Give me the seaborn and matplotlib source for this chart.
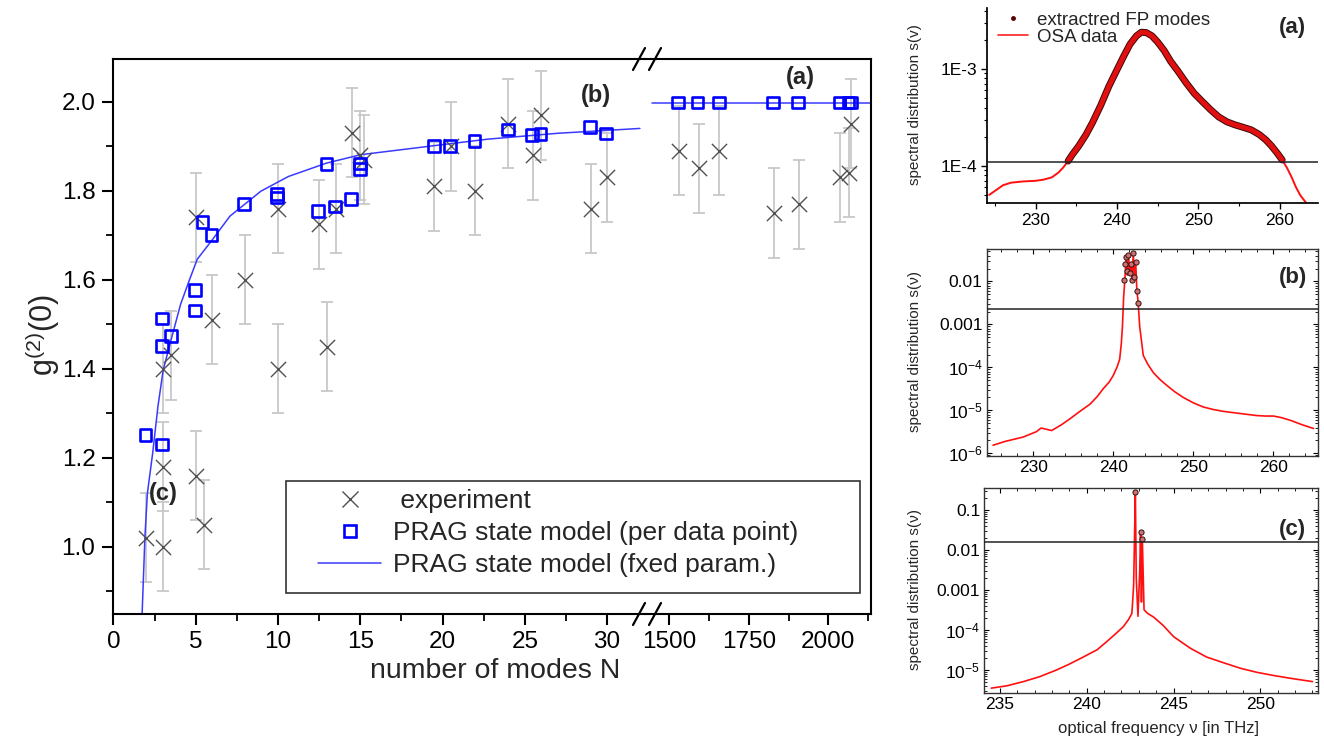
import numpy as np
import pandas as pd
import matplotlib
matplotlib.use('Agg')
import matplotlib.pyplot as plt
import seaborn as sns
from matplotlib.lines import Line2D
from matplotlib.patches import Rectangle
from matplotlib.ticker import FixedLocator, NullFormatter, LogLocator, FormatStrFormatter

# ---- main panel: g2(0) vs number of modes ----
exp_n_low = [2.0, 3.0, 3.0, 3.0, 3.5, 5.0, 5.0, 5.5, 6.0, 8.0, 10.0, 10.0, 12.5,
             13.0, 13.5, 14.5, 15.0, 15.2, 19.5, 20.5, 22.0, 24.0, 25.5, 26.0, 29.0, 30.0]
exp_g_low = [1.02, 1.00, 1.18, 1.40, 1.43, 1.16, 1.74, 1.05, 1.51, 1.60, 1.40, 1.76, 1.725,
             1.45, 1.76, 1.93, 1.88, 1.87, 1.81, 1.90, 1.80, 1.95, 1.88, 1.97, 1.76, 1.83]
exp_err_low = [0.1, 0.1, 0.1, 0.1, 0.1, 0.1, 0.1, 0.1, 0.1, 0.1, 0.1, 0.1, 0.1,
               0.1, 0.1, 0.1, 0.1, 0.1, 0.1, 0.1, 0.1, 0.1, 0.1, 0.1, 0.1, 0.1]

exp_n_high = [1529, 1592, 1657, 1829, 1909, 2038, 2065, 2071]
exp_g_high = [1.89, 1.85, 1.89, 1.75, 1.77, 1.83, 1.84, 1.95]
exp_err_high = [0.1, 0.1, 0.1, 0.1, 0.1, 0.1, 0.1, 0.1]

mod_n_low = [1.95, 2.95, 2.95, 2.95, 3.5, 4.95, 4.95, 5.4, 5.95, 7.95, 9.95, 9.95, 12.45,
             12.95, 13.45, 14.45, 15.0, 15.0, 19.5, 20.45, 21.95, 24.0, 25.45, 25.95, 28.95, 29.95]
mod_g_low = [1.251, 1.23, 1.451, 1.513, 1.473, 1.531, 1.577, 1.730, 1.701, 1.770, 1.785, 1.792, 1.755,
             1.860, 1.765, 1.782, 1.849, 1.861, 1.900, 1.900, 1.912, 1.938, 1.925, 1.927, 1.943, 1.929]
mod_n_high = [1528, 1589, 1656, 1826, 1905, 2035, 2063, 2071]
mod_g_high = [1.998, 1.998, 1.998, 1.998, 1.998, 1.998, 1.998, 1.998]

fit_n_low = [1.74, 1.91, 2.06, 2.38, 2.70, 3.02, 3.55, 4.08, 4.62, 5.09, 6.03, 7.08,
             8.96, 10.63, 12.94, 15.03, 19.43, 22.78, 26.96, 32.0]
fit_g_low = [0.85, 1.022, 1.12, 1.21, 1.315, 1.397, 1.472, 1.545, 1.60, 1.646, 1.691, 1.743,
             1.799, 1.832, 1.862, 1.881, 1.901, 1.916, 1.929, 1.940]
fit_n_high = [1447, 2135]
fit_g_high = [1.997, 1.997]

# ---- spectrum (a) ----
osa_a_nu = [224.3, 225.0, 226.0, 227.0, 228.5, 230.0, 231.0, 232.0, 232.8, 233.4, 234.0, 234.5,
            235.3, 236.2, 237.0, 238.0, 239.0, 240.0, 240.8, 241.6, 242.4, 243.0, 243.6, 244.3,
            245.0, 245.8, 246.6, 247.5, 248.5, 249.5, 250.5, 251.5, 252.5, 253.5, 254.5, 255.5,
            256.5, 257.5, 258.3, 259.0, 259.7, 260.3, 260.9, 261.5, 262.0, 262.5, 263.0, 263.4]
osa_a_s = [5.0e-5, 5.5e-5, 6.3e-5, 6.7e-5, 6.9e-5, 7.0e-5, 7.2e-5, 7.6e-5, 8.5e-5, 9.6e-5, 1.12e-4, 1.3e-4,
           1.6e-4, 2.1e-4, 2.8e-4, 4.2e-4, 6.6e-4, 9.8e-4, 1.34e-3, 1.8e-3, 2.2e-3, 2.4e-3, 2.38e-3, 2.2e-3,
           1.9e-3, 1.55e-3, 1.2e-3, 9.5e-4, 7.2e-4, 5.6e-4, 4.6e-4, 3.8e-4, 3.2e-4, 2.85e-4, 2.65e-4, 2.5e-4,
           2.35e-4, 2.1e-4, 1.85e-4, 1.6e-4, 1.35e-4, 1.15e-4, 9.5e-5, 7.5e-5, 6.0e-5, 5.0e-5, 4.4e-5, 4.0e-5]
fp_a_nu = [234.0, 234.5, 235.3, 236.2, 237.0, 238.0, 239.0, 240.0, 240.8, 241.6, 242.4, 243.0,
           243.6, 244.3, 245.0, 245.8, 246.6, 247.5, 248.5, 249.5, 250.5, 251.5, 252.5, 253.5,
           254.5, 255.5, 256.5, 257.5, 258.3, 259.0, 259.7, 260.3]
fp_a_s = [1.12e-4, 1.3e-4, 1.6e-4, 2.1e-4, 2.8e-4, 4.2e-4, 6.6e-4, 9.8e-4, 1.34e-3, 1.8e-3, 2.2e-3, 2.4e-3,
          2.38e-3, 2.2e-3, 1.9e-3, 1.55e-3, 1.2e-3, 9.5e-4, 7.2e-4, 5.6e-4, 4.6e-4, 3.8e-4, 3.2e-4, 2.85e-4,
          2.65e-4, 2.5e-4, 2.35e-4, 2.1e-4, 1.85e-4, 1.6e-4, 1.35e-4, 1.15e-4]
thr_a = 1.1e-4

# ---- spectrum (b) ----
osa_b_nu = [225.0, 226.5, 228.75, 230.4, 231.0, 231.5, 232.3, 233.5, 234.6, 236.0, 237.1, 238.0,
            238.75, 239.5, 240.0, 240.5, 240.8, 241.0, 241.15, 241.3, 241.45, 241.6, 241.75, 241.9,
            242.05, 242.2, 242.35, 242.5, 242.65, 242.8, 242.95, 243.1, 243.3, 243.75, 244.3, 245.0,
            245.8, 246.7, 247.7, 248.75, 250.0, 251.25, 252.5, 253.75, 255.8, 257.9, 259.0, 260.0,
            261.0, 262.1, 263.5, 265.0]
osa_b_s = [1.55e-6, 1.9e-6, 2.4e-6, 3.2e-6, 3.9e-6, 3.7e-6, 3.4e-6, 4.6e-6, 6.4e-6, 1.0e-5, 1.4e-5, 2.1e-5,
           3.2e-5, 4.6e-5, 6.5e-5, 1.05e-4, 1.55e-4, 3.5e-4, 9e-4, 4.5e-3, 1.1e-2, 3.5e-2, 1.4e-2, 4.2e-2,
           1.6e-2, 2.6e-2, 1.1e-2, 4.5e-2, 1.3e-2, 2.9e-2, 6e-3, 3.5e-3, 9e-4, 1.9e-4, 1.2e-4, 7.6e-5,
           5.3e-5, 3.8e-5, 2.7e-5, 2.0e-5, 1.5e-5, 1.2e-5, 1.05e-5, 9.5e-6, 8.5e-6, 7.6e-6, 7.4e-6, 7.4e-6,
           6.8e-6, 5.9e-6, 4.7e-6, 3.8e-6]
fp_b_nu = [241.3, 241.45, 241.6, 241.75, 241.9, 242.05, 242.2, 242.35, 242.5, 242.65, 242.8, 242.95, 243.05]
fp_b_s = [0.011, 0.026, 0.037, 0.018, 0.042, 0.016, 0.026, 0.011, 0.045, 0.013, 0.029, 0.006, 0.0032]
thr_b = 0.0023

# ---- spectrum (c) ----
osa_c_nu = [234.5, 235.4, 236.35, 237.3, 238.27, 239.0, 239.8, 240.6, 241.15, 241.7, 242.1, 242.4,
            242.6, 242.7, 242.75, 242.8, 242.85, 242.95, 243.05, 243.1, 243.15, 243.2, 243.3, 243.5,
            243.85, 244.4, 245.0, 245.96, 246.9, 247.9, 248.85, 249.8, 250.8, 251.7, 253.0]
osa_c_s = [3.5e-6, 4.0e-6, 5.1e-6, 6.8e-6, 1.0e-5, 1.4e-5, 2.1e-5, 3.2e-5, 5.1e-5, 8.3e-5, 1.2e-4, 1.8e-4,
           2.6e-4, 1.3e-3, 2e-2, 0.29, 2e-3, 2.2e-4, 3e-3, 0.029, 5e-4, 0.019, 3.2e-4, 2.6e-4,
           2.1e-4, 1.3e-4, 6.8e-5, 3.5e-5, 2.1e-5, 1.5e-5, 1.1e-5, 8.7e-6, 7.2e-6, 6.2e-6, 5.1e-6]
fp_c_nu = [242.8, 243.1, 243.2]
fp_c_s = [0.29, 0.029, 0.019]
thr_c = 0.0155

W, H = 1324, 740


def box(x0, y0, x1, y1):
    return [x0 / W, 1 - y1 / H, (x1 - x0) / W, (y1 - y0) / H]


sns.set_theme(style='ticks')
plt.rcParams['font.family'] = ['Liberation Sans', 'DejaVu Sans']
plt.rcParams['mathtext.fontset'] = 'custom'
plt.rcParams['mathtext.rm'] = 'Liberation Sans'
plt.rcParams['mathtext.it'] = 'Liberation Sans:italic'
plt.rcParams['axes.edgecolor'] = 'black'
plt.rcParams['xtick.color'] = 'black'
plt.rcParams['ytick.color'] = 'black'

fig = plt.figure(figsize=(13.24, 7.4), dpi=100)

ax_l = fig.add_axes(box(113.5, 59, 645, 614))
ax_r = fig.add_axes(box(645, 59, 871, 614))

for ax, en, eg, ee, mn, mg, fn, fg in [
        (ax_l, exp_n_low, exp_g_low, exp_err_low, mod_n_low, mod_g_low, fit_n_low, fit_g_low),
        (ax_r, exp_n_high, exp_g_high, exp_err_high, mod_n_high, mod_g_high, fit_n_high, fit_g_high)]:
    ax.errorbar(en, eg, yerr=ee, fmt='none', ecolor='#c8c8c8', elinewidth=1.3,
                capsize=4.5, capthick=1.3, zorder=1)
    sns.lineplot(x=fn, y=fg, color='#3a3aff', linewidth=1.1, sort=False, estimator=None,
                 ax=ax, zorder=2)
    sns.scatterplot(x=en, y=eg, marker='x', s=120, color='#505050', linewidth=1.0,
                    ax=ax, zorder=3)
    sns.scatterplot(x=mn, y=mg, marker='s', s=70, facecolor='none', edgecolor='#0000ff',
                    linewidth=1.9, ax=ax, zorder=4)
    ax.set_ylim(0.849, 2.096)
    ax.set_xlabel('')
    ax.set_ylabel('')
    for sp in ax.spines.values():
        sp.set_linewidth(1.5)
        sp.set_color('black')
    ax.tick_params(axis='both', which='major', direction='out', length=8, width=1.5,
                   labelsize=17.5)
    ax.tick_params(axis='x', which='major', pad=4)
    ax.tick_params(axis='y', which='major', pad=5)
    ax.tick_params(axis='both', which='minor', direction='out', length=5, width=1.3)

ax_l.set_xlim(0, 32.31)
ax_l.xaxis.set_major_locator(FixedLocator([0, 5, 10, 15, 20, 25, 30]))
ax_l.xaxis.set_minor_locator(FixedLocator([2.5, 7.5, 12.5, 17.5, 22.5, 27.5]))
ax_l.yaxis.set_major_locator(FixedLocator([1.0, 1.2, 1.4, 1.6, 1.8, 2.0]))
ax_l.yaxis.set_minor_locator(FixedLocator([0.9, 1.1, 1.3, 1.5, 1.7, 1.9]))
ax_l.yaxis.set_major_formatter(FormatStrFormatter('%.1f'))
ax_l.spines['right'].set_visible(False)

ax_r.set_xlim(1423.6, 2134.3)
ax_r.xaxis.set_major_locator(FixedLocator([1500, 1750, 2000]))
ax_r.xaxis.set_minor_locator(FixedLocator([1625, 1875, 2125]))
ax_r.spines['left'].set_visible(False)
ax_r.tick_params(axis='y', which='both', left=False, labelleft=False)

# break marks
for yb in (59, 614):
    for xc in (639, 655):
        fig.add_artist(Line2D([(xc - 6) / W, (xc + 6) / W], [1 - (yb + 11) / H, 1 - (yb - 11) / H],
                              color='black', linewidth=1.6, transform=fig.transFigure))

ax_l.text(29.3, 2.015, '(b)', fontsize=17, fontweight='bold', ha='center', va='center')
ax_r.text(1911, 2.055, '(a)', fontsize=17, fontweight='bold', ha='center', va='center')
ax_l.text(3.0, 1.12, '(c)', fontsize=17, fontweight='bold', ha='center', va='center')

fig.text(495 / W, 1 - 671 / H, 'number of modes N', fontsize=20.5, ha='center', va='center')
fig.text(42 / W, 1 - 335 / H, 'g$^{(2)}$(0)', fontsize=22, ha='center', va='center', rotation=90)

# legend
fig.add_artist(Rectangle((286 / W, 1 - 593 / H), (860 - 286) / W, (593 - 481) / H,
                         transform=fig.transFigure, facecolor='white', edgecolor='#333333',
                         linewidth=1.2, zorder=5))
handles = [Line2D([], [], linestyle='none', marker='x', markersize=12, color='#505050', markeredgewidth=1.0),
           Line2D([], [], linestyle='none', marker='s', markersize=9, markerfacecolor='none',
                  markeredgecolor='#0000ff', markeredgewidth=1.9),
           Line2D([], [], color='#3a3aff', linewidth=1.1)]
labels = [' experiment', 'PRAG state model (per data point)', 'PRAG state model (fxed param.)']
leg = fig.legend(handles, labels, loc='upper left', bbox_to_anchor=(318 / W, 1 - 489 / H),
                 frameon=False, fontsize=19, handlelength=2.4, handletextpad=0.45,
                 labelspacing=0.3, borderpad=0.0, borderaxespad=0.0)
leg.set_zorder(6)

# ---- right panels ----
ax_a = fig.add_axes(box(986.7, 8, 1318, 203.3))
ax_b = fig.add_axes(box(986.7, 249, 1318.3, 456))
ax_c = fig.add_axes(box(984.3, 488.3, 1317.7, 693.3))

sns.lineplot(x=osa_a_nu, y=osa_a_s, color='#ff1010', linewidth=1.4, sort=False, estimator=None,
             ax=ax_a, zorder=1)
sns.lineplot(x=fp_a_nu, y=fp_a_s, color='#3a0808', linewidth=5.0, sort=False, estimator=None,
             ax=ax_a, zorder=2)
sns.lineplot(x=fp_a_nu, y=fp_a_s, color='#e01010', linewidth=3.6, sort=False, estimator=None,
             ax=ax_a, zorder=3)
ax_a.axhline(thr_a, color='#222222', linewidth=1.1, zorder=4)
ax_a.set_yscale('log')
ax_a.set_xlim(224, 264.7)
ax_a.set_ylim(4.1e-5, 4.27e-3)
ax_a.yaxis.set_major_locator(FixedLocator([1e-4, 1e-3]))
ax_a.set_yticklabels(['1E-4', '1E-3'])
ax_a.yaxis.set_minor_locator(LogLocator(base=10, subs=np.arange(2, 10)))
ax_a.yaxis.set_minor_formatter(NullFormatter())
ax_a.xaxis.set_major_locator(FixedLocator([230, 240, 250, 260]))
ax_a.xaxis.set_minor_locator(FixedLocator([225, 235, 245, 255]))
ax_a.spines['top'].set_visible(False)
ax_a.spines['right'].set_visible(False)
ax_a.tick_params(which='major', direction='out', length=4, width=1, labelsize=12.5, pad=3)
ax_a.tick_params(which='minor', direction='out', length=2.5, width=0.8)
a_handles = [Line2D([], [], linestyle='none', marker='.', markersize=5, color='#5a0000'),
             Line2D([], [], color='#ff2020', linewidth=1.2)]
ax_a.legend(a_handles, ['extractred FP modes', 'OSA data'], loc='upper left',
            bbox_to_anchor=(0.0, 1.04), frameon=False, fontsize=13.5, handlelength=1.6,
            handletextpad=0.5, labelspacing=0.0, borderpad=0.1)
ax_a.text(0.965, 0.9, '(a)', transform=ax_a.transAxes, fontsize=16, fontweight='bold',
          ha='right', va='center')

sns.lineplot(x=osa_b_nu, y=osa_b_s, color='#ff1010', linewidth=1.2, sort=False, estimator=None,
             ax=ax_b, zorder=1)
sns.scatterplot(x=fp_b_nu, y=fp_b_s, marker='o', s=14, color='#d07070', edgecolor='#301010',
                linewidth=0.7, ax=ax_b, zorder=3)
ax_b.axhline(thr_b, color='#222222', linewidth=1.1, zorder=4)
ax_b.set_yscale('log')
ax_b.set_xlim(224.2, 265.6)
ax_b.set_ylim(8.7e-7, 0.057)
ax_b.yaxis.set_major_locator(FixedLocator([1e-6, 1e-5, 1e-4, 1e-3, 1e-2]))
ax_b.set_yticklabels(['$10^{-6}$', '$10^{-5}$', '$10^{-4}$', '0.001', '0.01'])
ax_b.yaxis.set_minor_formatter(NullFormatter())
ax_b.xaxis.set_major_locator(FixedLocator([230, 240, 250, 260]))
ax_b.xaxis.set_minor_locator(FixedLocator(list(range(226, 266, 2))))
ax_b.text(0.965, 0.86, '(b)', transform=ax_b.transAxes, fontsize=16, fontweight='bold',
          ha='right', va='center')

sns.lineplot(x=osa_c_nu, y=osa_c_s, color='#ff1010', linewidth=1.2, sort=False, estimator=None,
             ax=ax_c, zorder=1)
sns.scatterplot(x=fp_c_nu, y=fp_c_s, marker='o', s=14, color='#d07070', edgecolor='#301010',
                linewidth=0.7, ax=ax_c, zorder=3)
ax_c.axhline(thr_c, color='#222222', linewidth=1.1, zorder=4)
ax_c.set_yscale('log')
ax_c.set_xlim(234.1, 253.3)
ax_c.set_ylim(2.6e-6, 0.35)
ax_c.yaxis.set_major_locator(FixedLocator([1e-5, 1e-4, 1e-3, 1e-2, 1e-1]))
ax_c.set_yticklabels(['$10^{-5}$', '$10^{-4}$', '0.001', '0.01', '0.1'])
ax_c.yaxis.set_minor_formatter(NullFormatter())
ax_c.xaxis.set_major_locator(FixedLocator([235, 240, 245, 250]))
ax_c.xaxis.set_minor_locator(FixedLocator(list(range(235, 254, 1))))
ax_c.text(0.965, 0.8, '(c)', transform=ax_c.transAxes, fontsize=16, fontweight='bold',
          ha='right', va='center')

for ax in (ax_b, ax_c):
    for sp in ax.spines.values():
        sp.set_linewidth(1.0)
        sp.set_color('#333333')
    ax.tick_params(which='major', direction='in', length=3.5, width=0.8, labelsize=12.5,
                   top=True, right=True, pad=3)
    ax.tick_params(which='minor', direction='in', length=2, width=0.6, top=True, right=True)

for ax in (ax_a, ax_b, ax_c):
    ax.set_xlabel('')
    ax.set_ylabel('')

for yc, lab in [(105, 'spectral distribution s(v)'), (352, 'spectral distribution s(ν)'),
                (590, 'spectral distribution s(ν)')]:
    fig.text(915 / W, 1 - yc / H, lab, fontsize=11, rotation=90, ha='center', va='center')
fig.text(1158 / W, 1 - 729 / H, 'optical frequency ν [in THz]', fontsize=12, ha='center',
         va='center')

fig.savefig('out.png', dpi=100)
